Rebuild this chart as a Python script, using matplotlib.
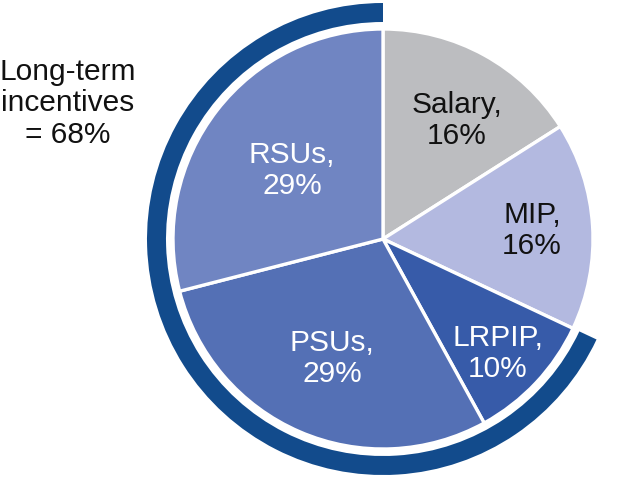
import matplotlib.pyplot as plt
from matplotlib.patches import Wedge

plt.rcParams['font.family'] = ['Liberation Sans', 'DejaVu Sans']

labels = ["Salary", "MIP", "LRPIP", "PSUs", "RSUs"]
shares = [16, 16, 10, 29, 29]
colors = ["#bcbdc0", "#b3b9e0", "#375ba9", "#5470b5", "#7085c2"]
text_colors = ["#111111", "#111111", "white", "white", "white"]
long_term = ["LRPIP", "PSUs", "RSUs"]

W, H = 626, 485
fig = plt.figure(figsize=(W / 100, H / 100), dpi=100)
ax = fig.add_axes([0, 0, 1, 1])

cx, cy, r = 383, H - 240, 210

ax.pie(shares, colors=colors, startangle=90, counterclock=False,
       center=(cx, cy), radius=r, frame=True,
       wedgeprops=dict(edgecolor="white", linewidth=2.4))
ax.set_xlim(0, W)
ax.set_ylim(0, H)
ax.set_aspect("equal")
ax.axis("off")

# ring around the long-term incentive slices (counter-clockwise from the top)
lt_share = sum(s for l, s in zip(labels, shares) if l in long_term)
end = 90 + lt_share * 3.6
ring = Wedge((cx, cy), 236, 90, end, width=19, facecolor="#124b8c", edgecolor="none")
ax.add_patch(ring)

fs = 21.5
# label positions in pixels (x, y of first line)
label_pos = [(457, 105), (532, 215), (498, 338), (332, 343), (292, 155)]
for lab, s, tc, (px, py) in zip(labels, shares, text_colors, label_pos):
    ax.text(px, H - py, f"{lab},", color=tc, fontsize=fs, ha="center", va="center")
    ax.text(px, H - py - 31, f"{s}%", color=tc, fontsize=fs, ha="center", va="center")

ax.text(68, H - 72, "Long-term", fontsize=fs, ha="center", va="center", color="#111111")
ax.text(68, H - 103, "incentives", fontsize=fs, ha="center", va="center", color="#111111")
ax.text(68, H - 135, f"= {lt_share}%", fontsize=fs, ha="center", va="center", color="#111111")

fig.savefig("out.png", dpi=100)
